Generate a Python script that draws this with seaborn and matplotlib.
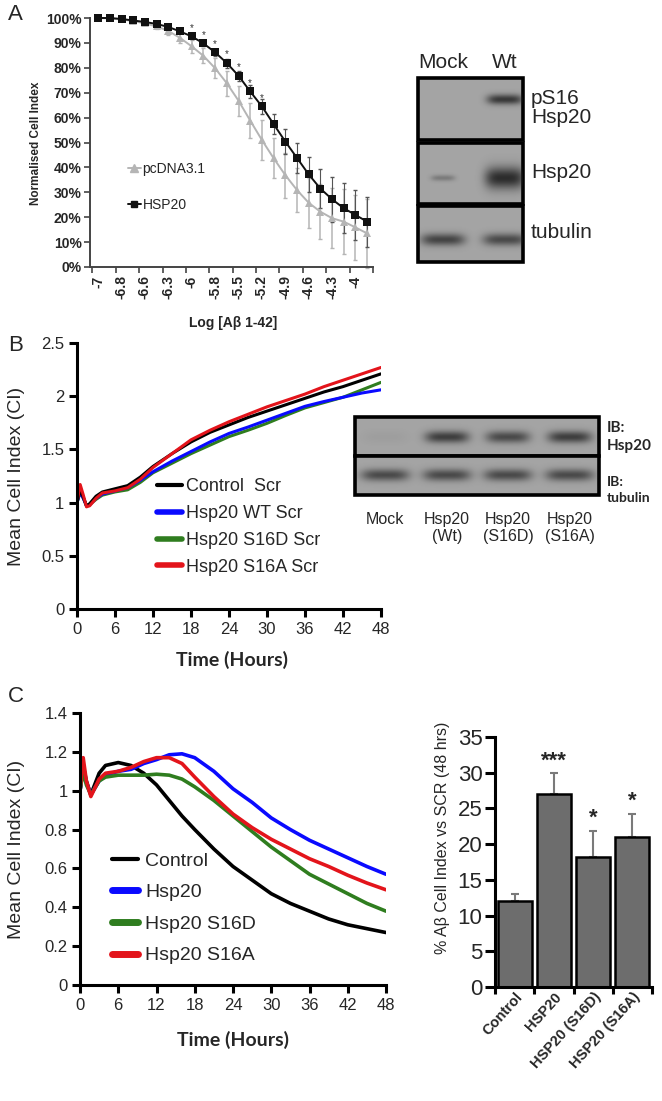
import numpy as np
import pandas as pd
import matplotlib
matplotlib.use("Agg")
import matplotlib.pyplot as plt
import seaborn as sns
from matplotlib.patches import Rectangle
from matplotlib.lines import Line2D

sns.set_theme(style="ticks")
plt.rcParams['font.family'] = ['Liberation Sans', 'DejaVu Sans']

# ---------------- panel A : dose response ----------------
log_ab_labels = ['-7', '-6.8', '-6.6', '-6.3', '-6', '-5.8', '-5.5', '-5.2',
                 '-4.9', '-4.6', '-4.3', '-4']
pcdna_mean = [100, 99.8, 99.4, 98.8, 97.8, 96.6, 94.8, 92.0, 88.6, 84.8, 79.8, 73.8,
              66.8, 58.8, 51.0, 43.7, 36.9, 30.9, 25.8, 22.2, 19.6, 18.2, 15.9, 13.5]
pcdna_err = [0.5, 0.5, 0.5, 0.5, 0.7, 1, 1.5, 2, 2.5, 3, 4, 5,
             6, 7, 8, 8, 9, 9, 10, 11, 12, 13, 13, 14]
hsp20_mean = [100, 100, 99.6, 99, 98.4, 97.6, 96.4, 94.6, 92.6, 89.8, 86.2, 81.9,
              76.8, 70.5, 64.5, 57.4, 50.4, 43.8, 37.2, 31.5, 27.2, 23.6, 20.9, 18.2]
hsp20_err = [0.4, 0.4, 0.4, 0.5, 0.5, 0.6, 0.7, 0.8, 1, 1.2, 1.5, 1.8,
             2, 2.5, 3, 4, 5, 6, 7, 8, 9, 10, 10, 10]
star_idx = [8, 9, 10, 11, 12, 13, 14]

blotA_lanes = ['Mock', 'Wt']
blotA_rows = ['pS16\nHsp20', 'Hsp20', 'tubulin']
blotA_bands = [[0.0, 0.9], [0.35, 1.0], [0.8, 0.75]]

# ---------------- panel B : scrambled peptide ----------------
b_hours = [0, 0.5, 1, 1.5, 2, 3, 4, 6, 8, 10, 12, 15, 18, 21, 24, 27, 30, 33, 36, 39, 42, 45, 48]
b_control = [1.0, 1.12, 1.05, 0.97, 0.99, 1.06, 1.10, 1.13, 1.16, 1.24, 1.34, 1.46, 1.57,
             1.66, 1.73, 1.80, 1.86, 1.92, 1.98, 2.04, 2.09, 2.15, 2.21]
b_wt = [1.0, 1.10, 1.04, 0.97, 0.98, 1.04, 1.08, 1.11, 1.14, 1.21, 1.29, 1.39, 1.48,
        1.57, 1.65, 1.71, 1.775, 1.84, 1.905, 1.95, 1.99, 2.03, 2.06]
b_s16d = [1.0, 1.10, 1.04, 0.97, 0.98, 1.03, 1.07, 1.10, 1.12, 1.19, 1.28, 1.37, 1.46,
          1.54, 1.62, 1.68, 1.745, 1.82, 1.89, 1.94, 1.99, 2.06, 2.13]
b_s16a = [1.0, 1.17, 1.07, 0.96, 0.97, 1.04, 1.09, 1.11, 1.14, 1.22, 1.33, 1.46, 1.59,
          1.68, 1.76, 1.83, 1.90, 1.96, 2.02, 2.09, 2.15, 2.21, 2.27]
b_names = ['Control  Scr', 'Hsp20 WT Scr', 'Hsp20 S16D Scr', 'Hsp20 S16A Scr']

blotB_lanes = ['Mock', 'Hsp20\n(Wt)', 'Hsp20\n(S16D)', 'Hsp20\n(S16A)']
blotB_hsp20 = [0.05, 0.85, 0.75, 0.85]
blotB_tubulin = [0.75, 0.75, 0.75, 0.75]

# ---------------- panel C : Abeta ----------------
c_hours = [0, 0.5, 1, 1.7, 3, 4, 6, 8, 10, 12, 14, 16, 18, 21, 24, 27, 30, 33, 36, 39, 42, 45, 48]
c_control = [1.0, 1.13, 1.05, 0.98, 1.09, 1.13, 1.145, 1.13, 1.09, 1.03, 0.95, 0.87, 0.80,
             0.70, 0.61, 0.54, 0.47, 0.42, 0.38, 0.34, 0.31, 0.29, 0.27]
c_hsp20 = [1.0, 1.12, 1.04, 0.98, 1.05, 1.08, 1.10, 1.11, 1.14, 1.16, 1.185, 1.19, 1.17,
           1.10, 1.01, 0.94, 0.86, 0.80, 0.745, 0.70, 0.655, 0.61, 0.57]
c_s16d = [1.0, 1.10, 1.03, 0.98, 1.05, 1.07, 1.08, 1.08, 1.08, 1.085, 1.08, 1.06, 1.02,
          0.95, 0.87, 0.79, 0.71, 0.64, 0.57, 0.52, 0.47, 0.42, 0.38]
c_s16a = [1.0, 1.17, 1.05, 0.97, 1.06, 1.09, 1.10, 1.12, 1.15, 1.17, 1.17, 1.14, 1.07,
          0.97, 0.88, 0.81, 0.75, 0.70, 0.65, 0.61, 0.565, 0.525, 0.49]
c_names = ['Control', 'Hsp20', 'Hsp20 S16D', 'Hsp20 S16A']

bar_groups = ['Control', 'HSP20', 'HSP20 (S16D)', 'HSP20 (S16A)']
bar_values = [12, 27, 18.2, 21]
bar_errors = [1, 2.9, 3.7, 3.2]
bar_stars = ['', '***', '*', '*']

line_colors = ['#000000', '#0a0aff', '#2f7d1f', '#e3141b']

# ---------------- figure helpers (pixel layout) ----------------
W, H = 662, 1101
fig = plt.figure(figsize=(W / 100, H / 100), dpi=100)


def px_axes(l, t, r, b):
    return fig.add_axes([l / W, 1 - b / H, (r - l) / W, (b - t) / H])


def px_text(x, y, s, **kw):
    fig.text(x / W, 1 - y / H, s, **kw)


def heavy_axes(ax, lw=2.2):
    sns.despine(ax=ax)
    for side in ['left', 'bottom']:
        ax.spines[side].set_linewidth(lw)
        ax.spines[side].set_color('black')
    ax.tick_params(width=lw, length=6, color='black', labelsize=12, pad=3)


def draw_strip(ax, top, bottom, left, right, centers, levels, hw, hh, cy):
    ax.add_patch(Rectangle((left, top), right - left, bottom - top, facecolor='#a4a4a4',
                           edgecolor='black', linewidth=2.6, zorder=1))
    xs = np.linspace(left, right, 300)
    ys = np.linspace(top, bottom, 120)
    X, Y = np.meshgrid(xs, ys)
    val = np.zeros_like(X)
    for cx, lv, w, h in zip(centers, levels, hw, hh):
        val += lv * np.exp(-np.abs((X - cx) / w) ** 4 - ((Y - cy) / h) ** 2)
    rgba = np.zeros(X.shape + (4,))
    rgba[..., :3] = 0.12
    rgba[..., 3] = np.clip(val, 0, 1) * 0.9
    ax.imshow(rgba, extent=(left, right, bottom, top), interpolation='bilinear',
              aspect='auto', zorder=2)


# ================= panel A plot =================
axA = px_axes(90, 18, 373, 267)
idx = np.arange(len(hsp20_mean))
dfA = pd.DataFrame({'idx': np.concatenate([idx, idx]),
                    'val': pcdna_mean + hsp20_mean,
                    'grp': ['pcDNA3.1'] * len(idx) + ['HSP20'] * len(idx)})
axA.errorbar(idx, pcdna_mean, yerr=pcdna_err, fmt='none', ecolor='#b5b5b5',
             elinewidth=1.1, capsize=1.5, zorder=1)
axA.errorbar(idx, hsp20_mean, yerr=hsp20_err, fmt='none', ecolor='#555555',
             elinewidth=0.8, capsize=1.5, zorder=1)
sns.lineplot(data=dfA, x='idx', y='val', hue='grp', style='grp',
             hue_order=['pcDNA3.1', 'HSP20'],
             palette={'pcDNA3.1': '#b5b5b5', 'HSP20': '#111111'},
             markers={'pcDNA3.1': '^', 'HSP20': 's'}, dashes=False,
             markersize=5.5, markeredgewidth=0, linewidth=1.4, ax=axA, legend=False)
for i in star_idx:
    axA.text(i, hsp20_mean[i] + 1.5, '*', ha='center', va='bottom', fontsize=7,
             color='#333333')
axA.set_xlim(-0.7, 23.5)
axA.set_ylim(0, 100)
axA.set_yticks(np.arange(0, 101, 10))
axA.set_yticklabels([f'{v}%' for v in range(0, 101, 10)], fontweight='bold', fontsize=10)
axA.set_xticks(np.arange(0, 24, 2))
axA.set_xticklabels(log_ab_labels, rotation=90, fontweight='bold', fontsize=10)
axA.set_xticks(np.arange(-0.5, 24, 2), minor=True)
axA.tick_params(axis='x', which='major', length=0, pad=6)
axA.tick_params(axis='x', which='minor', length=4, width=1.2, color='#444444')
axA.tick_params(axis='y', length=4, width=1.2, color='#444444', pad=2)
axA.set_xlabel('')
axA.set_ylabel('')
sns.despine(ax=axA)
for side in ['left', 'bottom']:
    axA.spines[side].set_linewidth(1.4)
    axA.spines[side].set_color('#444444')
for line in axA.lines:
    line.set_clip_on(False)
axA.legend(handles=[Line2D([], [], color='#b5b5b5', marker='^', markersize=6, lw=1.4),
                    Line2D([], [], color='#111111', marker='s', markersize=5, lw=1.4)],
           labels=['pcDNA3.1', 'HSP20'], loc='upper left', frameon=False,
           bbox_to_anchor=((128 - 90) / 283, (267 - 162) / 249), borderaxespad=0,
           borderpad=0, handlelength=0.9, handletextpad=0.15, labelspacing=1.6,
           fontsize=10)
px_text(36, 143, 'Normalised Cell Index', rotation=90, ha='center', va='center',
        fontsize=8.5, fontweight='bold')
px_text(233, 323, 'Log [A\u03b2 1-42]', ha='center', va='center', fontsize=10,
        fontweight='bold')
px_text(8, 15, 'A', fontsize=16, ha='left', va='center')

# ================= panel A blot =================
axAb = px_axes(410, 70, 530, 270)
axAb.set_xlim(410, 530)
axAb.set_ylim(270, 70)
axAb.axis('off')
stripsA = [(78, 140, 100, [17, 18], [5, 5]),
           (143, 204, 178, [12, 20], [3, 11]),
           (206, 262, 240, [22, 22], [6, 6])]
for (t, b, cy, hw, hh), lv in zip(stripsA, blotA_bands):
    draw_strip(axAb, t, b, 418, 523, [443, 505], lv, hw, hh, cy)
for lab, x in zip(blotA_lanes, [443, 505]):
    px_text(x, 62, lab, ha='center', va='center', fontsize=15)
for lab, y in zip(blotA_rows, [108, 173, 233]):
    px_text(531, y, lab, ha='left', va='center', fontsize=15, linespacing=1.05)

# ================= panel B =================
axB = px_axes(77, 343, 381, 609)
dfB = pd.DataFrame({'hours': b_hours * 4,
                    'ci': b_control + b_wt + b_s16d + b_s16a,
                    'group': np.repeat(b_names, len(b_hours))})
sns.lineplot(data=dfB, x='hours', y='ci', hue='group',
             hue_order=[b_names[2], b_names[1], b_names[0], b_names[3]],
             palette=dict(zip(b_names, line_colors)), linewidth=2.2, ax=axB,
             legend=False)
axB.set_xlim(0, 48)
axB.set_ylim(0, 2.5)
axB.set_xticks(np.arange(0, 49, 6))
axB.set_yticks([0, 0.5, 1, 1.5, 2, 2.5])
axB.set_yticklabels(['0', '0.5', '1', '1.5', '2', '2.5'])
axB.set_xlabel('')
axB.set_ylabel('')
heavy_axes(axB)
axB.legend(handles=[Line2D([], [], color=c, lw=w) for c, w in zip(line_colors, [3, 4, 4, 4])],
           labels=b_names, loc='upper left', frameon=False,
           bbox_to_anchor=((157 - 77) / 304, (609 - 478) / 266), borderaxespad=0,
           borderpad=0, handlelength=1.4, handletextpad=0.2, labelspacing=0.55,
           fontsize=13)
px_text(17, 476, 'Mean Cell Index (CI)', rotation=90, ha='center', va='center', fontsize=14)
px_text(232, 660, 'Time (Hours)', ha='center', va='center', fontsize=14,
        fontweight='bold', family=['Lato', 'DejaVu Sans'])
px_text(8, 345, 'B', fontsize=16, ha='left', va='center')

# ================= panel B blot =================
axBb = px_axes(350, 410, 605, 500)
axBb.set_xlim(350, 605)
axBb.set_ylim(500, 410)
axBb.axis('off')
lanesB = [385, 447, 508, 570]
draw_strip(axBb, 417, 456, 355, 599, lanesB, blotB_hsp20, [22] * 4, [6] * 4, 437)
draw_strip(axBb, 456, 495, 355, 599, lanesB, blotB_tubulin, [24] * 4, [6] * 4, 475)
for lab, x in zip(blotB_lanes, lanesB):
    px_text(x, 512, lab, ha='center', va='top', fontsize=11.5, linespacing=1.15)
px_text(607, 437, 'IB:\nHsp20', ha='left', va='center', fontsize=11, fontweight='bold',
        family=['Lato', 'DejaVu Sans'], linespacing=1.3)
px_text(607, 490, 'IB:\ntubulin', ha='left', va='center', fontsize=10, fontweight='bold',
        family=['Lato', 'DejaVu Sans'], linespacing=1.3)

# ================= panel C lines =================
axC = px_axes(80, 713, 386, 985)
dfC = pd.DataFrame({'hours': c_hours * 4,
                    'ci': c_control + c_hsp20 + c_s16d + c_s16a,
                    'group': np.repeat(c_names, len(c_hours))})
sns.lineplot(data=dfC, x='hours', y='ci', hue='group', hue_order=c_names,
             palette=dict(zip(c_names, line_colors)), linewidth=2.6, ax=axC,
             legend=False)
axC.set_xlim(0, 48)
axC.set_ylim(0, 1.4)
axC.set_xticks(np.arange(0, 49, 6))
axC.set_yticks(np.arange(0, 1.41, 0.2))
axC.set_yticklabels(['0', '0.2', '0.4', '0.6', '0.8', '1', '1.2', '1.4'])
axC.set_xlabel('')
axC.set_ylabel('')
heavy_axes(axC)
axC.legend(handles=[Line2D([], [], color=c, lw=w) for c, w in zip(line_colors, [3, 5, 5, 5])],
           labels=c_names, loc='upper left', frameon=False,
           bbox_to_anchor=((112 - 80) / 306, (985 - 852) / 272), borderaxespad=0,
           borderpad=0, handlelength=1.35, handletextpad=0.35, labelspacing=0.72,
           fontsize=14)
px_text(17, 849, 'Mean Cell Index (CI)', rotation=90, ha='center', va='center', fontsize=14)
px_text(233, 1040, 'Time (Hours)', ha='center', va='center', fontsize=14,
        fontweight='bold', family=['Lato', 'DejaVu Sans'])
px_text(8, 697, 'C', fontsize=16, ha='left', va='center')

# ================= panel C bars =================
axD = px_axes(495, 737, 652, 987)
dfD = pd.DataFrame({'group': bar_groups, 'value': bar_values})
sns.barplot(data=dfD, x='group', y='value', color='#6d6d6d', edgecolor='black',
            linewidth=1.8, width=0.87, saturation=1, errorbar=None, ax=axD)
axD.errorbar(np.arange(len(bar_values)), bar_values,
             yerr=[np.zeros(len(bar_errors)), bar_errors], fmt='none',
             ecolor='#7a7a7a', elinewidth=1.5, capsize=3, capthick=1.5, zorder=0)
for i, s in enumerate(bar_stars):
    if s:
        axD.text(i, bar_values[i] + bar_errors[i] + 0.3, s, ha='center', va='bottom',
                 fontsize=16, fontweight='bold')
axD.set_xlim(-0.5, 3.5)
axD.set_ylim(0, 35)
axD.set_yticks(np.arange(0, 36, 5))
axD.set_xlabel('')
axD.set_ylabel('')
heavy_axes(axD)
axD.tick_params(axis='y', labelsize=16, length=7, pad=2)
axD.set_xticks(np.arange(-0.5, 3.6, 1), minor=True)
axD.tick_params(axis='x', which='major', length=0, pad=2)
axD.tick_params(axis='x', which='minor', length=5, width=2.2, color='black')
axD.set_xticks(range(len(bar_groups)))
axD.set_xticklabels(bar_groups, rotation=48, ha='right', rotation_mode='anchor',
                    fontsize=10.5, fontweight='bold')
px_text(442, 838, '% A\u03b2 Cell Index vs SCR (48 hrs)', rotation=90, ha='center',
        va='center', fontsize=11.5)

fig.savefig('out.png', dpi=100)
